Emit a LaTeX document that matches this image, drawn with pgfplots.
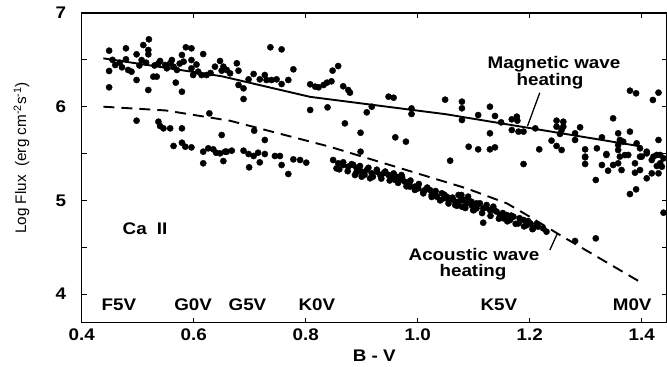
\documentclass[border=0pt]{standalone}
\usepackage{fontspec}
\setmainfont{Liberation Sans}[FakeStretch=1.12]
\newfontfamily\plainsans{Liberation Sans}
\usepackage{pgfplots}
\pgfplotsset{compat=1.18}
\usepackage{pgfplotstable}

\pgfplotstableread{
x y
0.449 6.598
0.449 6.381
0.449 6.207
0.460 6.445
0.468 6.470
0.479 6.623
0.479 6.506
0.483 6.392
0.489 6.374
0.498 6.559
0.498 6.285
0.507 6.498
0.510 6.658
0.520 6.719
0.519 6.605
0.519 6.559
0.519 6.178
0.528 6.321
0.534 6.321
0.537 6.463
0.540 6.488
0.549 6.445
0.558 6.463
0.561 6.498
0.564 6.427
0.568 6.257
0.570 6.392
0.579 6.552
0.579 6.160
0.582 6.481
0.586 6.634
0.596 6.623
0.596 6.498
0.596 6.409
0.599 6.338
0.608 6.374
0.614 6.338
0.617 6.562
0.623 6.338
0.638 6.427
0.647 6.488
0.653 6.427
0.659 6.392
0.665 6.356
0.455 6.500
0.472 6.420
0.503 6.440
0.515 6.470
0.530 6.440
0.552 6.410
0.575 6.460
0.605 6.450
0.630 6.360
0.650 6.384
0.677 6.463
0.680 6.384
0.680 6.232
0.689 6.196
0.689 6.082
0.698 6.292
0.707 6.349
0.718 6.292
0.727 6.338
0.730 6.285
0.737 6.634
0.739 6.285
0.748 6.292
0.757 6.612
0.757 6.242
0.769 6.285
0.778 6.399
0.808 6.239
0.808 5.965
0.817 6.214
0.823 6.207
0.832 6.232
0.838 6.257
0.839 5.993
0.846 6.271
0.848 6.385
0.858 6.434
0.867 6.218
0.870 5.822
0.876 6.178
0.879 6.150
0.898 5.722
0.909 5.940
0.918 6.000
0.948 6.107
0.957 6.096
0.960 5.673
0.979 5.627
0.989 5.982
0.989 5.922
1.049 6.075
1.058 5.424
0.498 5.851
0.537 5.840
0.540 5.794
0.546 5.769
0.558 5.769
0.579 5.769
0.628 5.929
0.564 5.581
0.579 5.616
0.585 5.573
0.596 5.566
0.617 5.396
0.617 5.520
0.626 5.556
0.635 5.545
0.640 5.509
0.647 5.502
0.656 5.520
0.650 5.698
0.653 5.420
0.659 5.520
0.668 5.531
0.689 5.531
0.698 5.495
0.699 5.353
0.707 5.474
0.715 5.509
0.718 5.406
0.727 5.495
0.727 5.645
0.708 5.744
0.745 5.474
0.754 5.474
0.757 5.378
0.769 5.282
0.778 5.438
0.790 5.431
0.801 5.403
0.898 5.520
0.849 5.431
0.858 5.396
0.855 5.342
0.867 5.378
0.876 5.360
0.885 5.378
0.888 5.271
0.891 5.342
0.900 5.307
0.900 5.253
0.909 5.324
0.915 5.236
0.918 5.289
0.927 5.307
0.933 5.271
0.939 5.289
0.948 5.271
0.954 5.253
0.960 5.218
0.962 5.253
0.968 5.218
0.971 5.271
0.977 5.200
0.986 5.200
0.986 5.147
0.995 5.147
1.001 5.129
1.010 5.093
1.013 5.111
1.022 5.111
1.025 5.058
1.031 5.093
1.034 5.040
1.043 5.076
1.046 5.022
1.052 5.040
1.055 5.003
1.064 5.004
1.067 4.951
1.073 5.058
1.073 4.986
1.079 4.933
1.081 5.004
1.087 4.969
1.096 4.951
1.099 4.897
1.105 4.969
1.105 4.915
1.078 5.058
1.084 5.004
1.090 5.040
1.096 4.986
1.111 4.969
1.117 4.915
1.123 4.951
1.129 4.897
1.135 4.933
1.141 4.880
1.147 4.844
1.153 4.809
1.159 4.844
1.165 4.791
1.171 4.826
1.180 4.755
1.189 4.791
1.195 4.737
1.201 4.755
1.206 4.702
1.215 4.720
1.224 4.702
1.230 4.666
0.860 5.332
0.875 5.312
0.890 5.292
0.905 5.273
0.920 5.253
0.935 5.233
0.950 5.213
0.965 5.187
0.980 5.150
0.995 5.112
1.010 5.075
1.025 5.037
1.040 5.000
1.055 4.967
1.070 4.943
1.085 4.919
1.100 4.895
1.115 4.865
1.130 4.835
1.145 4.805
1.160 4.777
1.175 4.750
1.190 4.723
1.205 4.693
0.867 5.407
0.882 5.387
0.897 5.367
0.912 5.348
0.927 5.328
0.942 5.308
0.957 5.288
0.972 5.250
0.987 5.212
1.002 5.175
1.017 5.137
1.032 5.100
1.047 5.063
1.062 5.030
1.077 5.006
1.092 4.982
1.107 4.955
1.122 4.925
1.137 4.895
1.152 4.865
1.167 4.838
1.182 4.810
1.197 4.780
1.212 4.748
1.117 4.762
1.281 4.567
1.318 4.595
1.079 6.054
1.079 5.983
1.079 5.858
1.108 5.911
1.129 6.000
1.138 5.901
1.149 5.833
1.129 5.716
1.168 5.865
1.177 5.894
1.178 5.851
1.168 5.751
1.180 5.734
1.189 5.734
1.210 5.769
1.248 5.851
1.248 5.787
1.254 5.709
1.239 5.638
1.248 5.581
1.217 5.545
1.129 5.545
1.138 5.566
1.108 5.545
1.091 5.573
1.189 5.388
1.379 6.171
1.390 6.143
1.430 6.150
1.420 6.072
1.349 5.876
1.260 5.840
1.260 5.787
1.257 5.751
1.290 5.780
1.281 5.716
1.281 5.645
1.329 5.673
1.358 5.716
1.379 5.734
1.361 5.645
1.358 5.591
1.367 5.627
1.391 5.609
1.430 5.645
1.257 5.538
1.299 5.545
1.320 5.556
1.299 5.460
1.337 5.485
1.358 5.538
1.376 5.485
1.397 5.556
1.400 5.467
1.409 5.520
1.421 5.467
1.433 5.485
1.299 5.467
1.299 5.389
1.337 5.495
1.329 5.378
1.349 5.378
1.340 5.317
1.358 5.396
1.361 5.467
1.370 5.484
1.364 5.324
1.388 5.396
1.397 5.467
1.388 5.296
1.397 5.324
1.409 5.502
1.418 5.431
1.409 5.236
1.427 5.485
1.427 5.367
1.418 5.289
1.430 5.289
1.439 5.449
1.436 5.360
1.433 5.396
1.318 5.218
1.390 5.118
1.379 5.068
1.439 4.869
}\stars

\pgfplotstableread{
x y
0.4387 6.516
0.650 6.325
0.808 6.105
1.050 5.920
1.400 5.575
}\magline

\pgfplotstableread{
x y
0.4387 6.000
0.550 5.960
0.665 5.850
0.843 5.573
1.087 5.129
1.159 4.969
1.195 4.844
1.254 4.631
1.400 4.120
}\acline

\begin{document}
\begin{tikzpicture}
\useasboundingbox (-81.7bp,-44.3bp) rectangle (585.3bp,322.7bp);
\begin{axis}[
  at={(0,0)}, anchor=south west,
  width=585.3bp, height=309.7bp, scale only axis,
  xmin=0.4, xmax=1.4452, ymin=3.695, ymax=7,
  font=\fontsize{16.8bp}{17.7bp}\selectfont\bfseries,
  /pgf/number format/assume math mode=true,
  axis line style={line width=1.4bp},
  every tick/.style={line width=1.2bp, black},
  major tick length=5bp, minor tick length=5bp,
  tick align=inside,
  xtick={0.4,0.6,0.8,1.0,1.2,1.4},
  xticklabels={0.4,0.6,0.8,1.0,1.2,1.4},
  ytick={4,5,6,7}, yticklabels={4,5,6,7},
  minor ytick={4.5,5.5,6.5},
  yticklabel style={xshift=-12bp},
  xticklabel style={yshift=-3bp},
  xlabel={B - V},
  ylabel={Log Flux\ \ (erg cm\textsuperscript{-2}s\textsuperscript{-1})},
  xlabel style={at={(axis description cs:0.5,-0.1066)}, anchor=center},
  ylabel style={at={(axis description cs:-0.1029,0.532)}, anchor=center,
    font=\plainsans\fontsize{15.3bp}{17bp}\selectfont},
]
\addplot[only marks, mark=*, mark size=3.1bp, black] table[x=x,y=y] {\stars};
\addplot[line width=1.9bp, black, no marks] table[x=x,y=y] {\magline};
\addplot[line width=1.9bp, black, no marks, dash pattern=on 11bp off 7bp] table[x=x,y=y] {\acline};
\draw[line width=1.3bp] (axis cs:1.218,6.149) -- (axis cs:1.196,5.792);
\draw[line width=1.3bp] (axis cs:1.236,4.471) -- (axis cs:1.249,4.641);
\node[anchor=base] at (axis cs:1.2434,6.410) {Magnetic wave};
\node[anchor=base] at (axis cs:1.2363,6.221) {heating};
\node[anchor=base] at (axis cs:1.1006,4.362) {Acoustic wave};
\node[anchor=base] at (axis cs:1.0988,4.186) {heating};
\node[anchor=base] at (axis cs:0.513,4.638) {Ca\hspace{0.6em}II};
\node[anchor=base] at (axis cs:0.4666,3.820) {F5V};
\node[anchor=base] at (axis cs:0.599,3.820) {G0V};
\node[anchor=base] at (axis cs:0.696,3.820) {G5V};
\node[anchor=base] at (axis cs:0.820,3.820) {K0V};
\node[anchor=base] at (axis cs:1.145,3.820) {K5V};
\node[anchor=base] at (axis cs:1.383,3.820) {M0V};
\end{axis}
\end{tikzpicture}
\end{document}
